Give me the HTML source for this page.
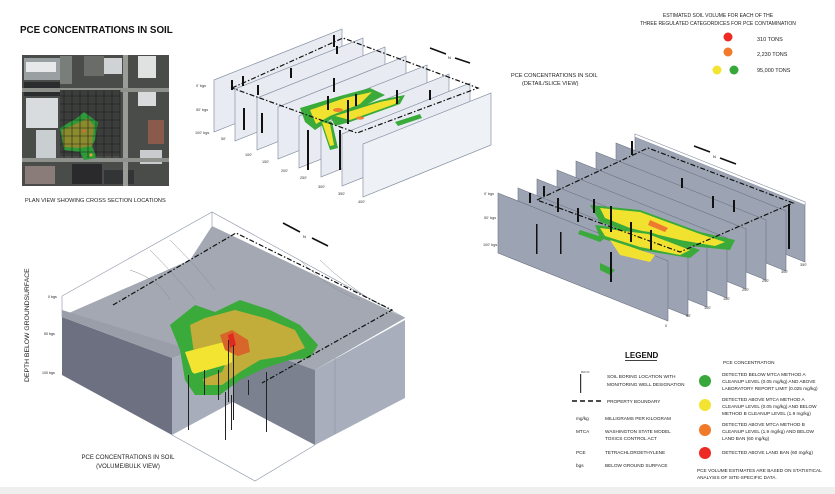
<!DOCTYPE html>
<html><head><meta charset="utf-8"><style>
html,body{margin:0;padding:0;background:#fff;}
svg{display:block;font-family:"Liberation Sans",sans-serif;}
</style></head><body>
<svg width="835" height="494" viewBox="0 0 835 494" xmlns="http://www.w3.org/2000/svg">
<rect width="835" height="494" fill="#fff"/>
<rect y="487" width="835" height="7" fill="#efefef"/>

<text x="20" y="33" font-size="9.8" font-weight="bold" fill="#111">PCE CONCENTRATIONS  IN SOIL</text>

<g>
<rect x="22" y="55" width="147" height="131" fill="#4a4c4a"/>
<rect x="24" y="58" width="36" height="22" fill="#9aa0a2"/>
<rect x="26" y="62" width="30" height="10" fill="#e6e8ea"/>
<rect x="24" y="82" width="36" height="14" fill="#2a2c2e"/>
<rect x="26" y="98" width="32" height="30" fill="#d8dcde"/>
<rect x="36" y="130" width="20" height="32" fill="#c9ced0"/>
<rect x="25" y="166" width="30" height="18" fill="#8a7c78"/>
<rect x="60" y="56" width="12" height="28" fill="#7a7e7a"/>
<rect x="84" y="56" width="20" height="20" fill="#6a6c68"/>
<rect x="104" y="58" width="18" height="16" fill="#cfd3d5"/>
<rect x="138" y="56" width="18" height="22" fill="#e0e2e2"/>
<rect x="138" y="90" width="18" height="16" fill="#d8dadc"/>
<rect x="148" y="120" width="16" height="24" fill="#8a5a4a"/>
<rect x="140" y="150" width="22" height="14" fill="#c8ccce"/>
<rect x="72" y="164" width="30" height="20" fill="#2a2a2c"/>
<rect x="104" y="170" width="30" height="14" fill="#333436"/>
<rect x="123" y="55" width="5" height="131" fill="#9a9c98"/>
<rect x="22" y="88" width="147" height="4" fill="#8e908c"/>
<rect x="22" y="158" width="147" height="4" fill="#8e908c"/>
<rect x="60" y="90" width="60" height="66" fill="#3c3e3c"/>
<path d="M77 118 L84 112 L92 118 L98 122 L95 140 L92 146 L97 158 L84 160 L80 152 L64 150 L60 128 L70 122 Z" fill="#2f9a3a"/>
<path d="M80 122 L88 118 L94 126 L92 146 L80 148 L64 147 L62 130 Z" fill="#8a8a2e"/>
<circle cx="84" cy="131" r="1.5" fill="#e0643c"/>
<circle cx="91" cy="155" r="1.5" fill="#f0a030"/>
<g stroke="#111" stroke-width="0.6" opacity="0.8">
<path d="M60 96H120M60 104H120M60 112H120M60 120H120M60 128H120M60 136H120M60 144H120M60 152H120"/>
<path d="M64 90V158M72 90V158M80 90V158M88 90V158M96 90V158M104 90V158M112 90V158M120 90V158"/>
</g>
</g>
<text x="25" y="202" font-size="5.6" fill="#222">PLAN VIEW SHOWING CROSS SECTION LOCATIONS</text>

<g stroke="#8a93a6" stroke-width="0.7">
<g fill="#e8ecf2">
<polygon points="214,80 342,29 342,81 214,132"/>
<polygon points="235,89 363,38 363,90 235,141"/>
<polygon points="257,98 385,47 385,99 257,150"/>
<polygon points="278,107 406,56 406,108 278,159"/>
<polygon points="299,116 427,65 427,117 299,168"/>
<polygon points="321,125 449,74 449,126 321,177"/>
<polygon points="342,134 470,83 470,135 342,186"/>
<polygon points="363,144 491,93 491,145 363,197" fill="#eef1f6"/>
</g>
</g>
<g>
<path d="M300 108 L340 96 L370 88 L385 95 L360 108 L330 120 L315 130 L305 122 Z" fill="#3aaa3a"/>
<path d="M310 110 L345 98 L372 92 L360 104 L330 116 L316 124 Z" fill="#f2e230"/>
<path d="M330 116 L380 100 L405 95 L400 104 L350 122 L335 126 Z" fill="#3aaa3a"/>
<path d="M335 116 L380 102 L400 98 L395 104 L350 120 Z" fill="#f2e230"/>
<path d="M320 120 L330 150 L338 148 L332 122 Z" fill="#3aaa3a"/>
<path d="M322 122 L330 146 L334 145 L330 124 Z" fill="#f2e230"/>
<ellipse cx="338" cy="110" rx="5" ry="2" fill="#ee8030"/>
<ellipse cx="360" cy="118" rx="4" ry="1.6" fill="#ee8030"/>
<path d="M395 122 L420 114 L422 118 L398 126 Z" fill="#3aaa3a"/>
</g>
<g fill="#111">
<rect x="231" y="80" width="2" height="10"/><rect x="242" y="76" width="2" height="10"/>
<rect x="257" y="85" width="2" height="10"/><rect x="243" y="108" width="2" height="22"/>
<rect x="261" y="113" width="2" height="20"/><rect x="290" y="68" width="2" height="10"/>
<rect x="333" y="35" width="2" height="12"/><rect x="336" y="46" width="2" height="8"/>
<rect x="333" y="78" width="2" height="14"/><rect x="327" y="96" width="2" height="14"/>
<rect x="307" y="130" width="2" height="40"/><rect x="339" y="130" width="2" height="40"/>
<rect x="355" y="94" width="2" height="12"/><rect x="396" y="90" width="2" height="14"/>
<rect x="429" y="90" width="2" height="10"/><rect x="347" y="100" width="2" height="24"/>
</g>
<path d="M232 88 L343 38 L478 88 L357 133 Z" fill="none" stroke="#111" stroke-width="1.2" stroke-dasharray="5,2,1.5,2"/>
<g font-size="3.8" fill="#333">
<text x="196" y="87">0' bgs</text><text x="196" y="111">50' bgs</text><text x="195" y="134">100' bgs</text>
<text x="221" y="140">50'</text><text x="245" y="156">100'</text><text x="262" y="163">150'</text><text x="281" y="172">200'</text><text x="300" y="179">250'</text><text x="318" y="188">300'</text><text x="338" y="195">350'</text><text x="358" y="203">400'</text>
</g>
<path d="M430 48 L446 54 M455 58 L470 63" stroke="#111" stroke-width="1.6"/>
<text x="448" y="59" font-size="4" fill="#111">N</text>
<text x="511" y="77" font-size="5.6" fill="#222">PCE CONCENTRATIONS IN SOIL</text>
<text x="522" y="85" font-size="5.6" fill="#222">(DETAIL/SLICE VIEW)</text>

<text x="718" y="17" font-size="5" fill="#222" text-anchor="middle">ESTIMATED SOIL VOLUME FOR EACH OF THE</text>
<text x="718" y="25" font-size="5" fill="#222" text-anchor="middle">THREE REGULATED CATEGORDICES FOR PCE CONTAMINATION</text>
<circle cx="728" cy="37" r="4.5" fill="#ee2a24"/>
<circle cx="728" cy="52" r="4.5" fill="#f07a2a"/>
<circle cx="717" cy="70" r="4.5" fill="#f2e430"/>
<circle cx="734" cy="70" r="4.5" fill="#38a83a"/>
<text x="757" y="41" font-size="5.5" fill="#222">310 TONS</text>
<text x="757" y="56" font-size="5.5" fill="#222">2,230 TONS</text>
<text x="757" y="72" font-size="5.5" fill="#222">95,000 TONS</text>

<g stroke="#6e7585" stroke-width="0.6">
<polygon points="635,134 805,202 805,262 635,194" fill="#9ca3b3"/>
<polygon points="616,143 786,211 786,271 616,203" fill="#9ca3b3"/>
<polygon points="596,152 766,220 766,280 596,212" fill="#9ca3b3"/>
<polygon points="576,161 746,229 746,289 576,221" fill="#9ca3b3"/>
<polygon points="557,170 727,238 727,298 557,230" fill="#9ca3b3"/>
<polygon points="537,179 707,247 707,307 537,239" fill="#9ca3b3"/>
<polygon points="518,188 688,256 688,316 518,248" fill="#9ca3b3"/>
<polygon points="498,193 668,261 668,321 498,253" fill="#9ca3b3"/>
</g>
<g fill="#fff" stroke="#8a93a6" stroke-width="0.5">
<polygon points="635,134 805,202 805,205 635,137"/>
</g>
<g>
<path d="M590 205 L640 210 L700 232 L735 240 L730 250 L690 246 L640 235 L600 222 Z" fill="#3aaa3a"/>
<path d="M600 208 L640 212 L700 234 L725 242 L715 246 L680 240 L630 228 L605 218 Z" fill="#f2e230"/>
<path d="M595 225 L650 232 L700 250 L690 258 L640 250 L600 238 Z" fill="#3aaa3a"/>
<path d="M600 228 L648 234 L690 250 L680 255 L640 247 L605 236 Z" fill="#f2e230"/>
<path d="M610 240 L655 255 L650 262 L620 255 Z" fill="#f2e230"/>
<path d="M650 220 L668 228 L665 232 L648 225 Z" fill="#ee7a30"/>
<path d="M580 230 L605 238 L600 242 L578 234 Z" fill="#3aaa3a"/>
<path d="M600 263 L615 270 L610 275 L600 270 Z" fill="#3aaa3a"/>
</g>
<g fill="#111">
<rect x="529" y="193" width="2" height="10"/><rect x="543" y="186" width="2" height="10"/>
<rect x="536" y="224" width="1.5" height="30"/><rect x="560" y="232" width="1.5" height="22"/>
<rect x="557" y="198" width="2" height="14"/><rect x="577" y="208" width="2" height="14"/>
<rect x="593" y="199" width="2" height="14"/><rect x="631" y="141" width="2" height="14"/>
<rect x="681" y="178" width="2" height="10"/><rect x="712" y="196" width="2" height="12"/>
<rect x="733" y="200" width="2" height="12"/><rect x="788" y="204" width="2" height="45"/>
<rect x="610" y="206" width="2" height="26"/><rect x="630" y="222" width="2" height="20"/>
<rect x="650" y="230" width="2" height="20"/><rect x="610" y="252" width="2" height="30"/>
</g>
<path d="M537 200 L648 148 L793 203 L680 252 Z" fill="none" stroke="#111" stroke-width="1.2" stroke-dasharray="5,2,1.5,2"/>
<g font-size="3.8" fill="#333">
<text x="484" y="195">0' bgs</text><text x="484" y="219">50' bgs</text><text x="483" y="246">100' bgs</text>
<text x="665" y="327">0</text><text x="686" y="317">50'</text><text x="704" y="309">100'</text><text x="723" y="300">150'</text><text x="742" y="291">200'</text><text x="762" y="282">250'</text><text x="781" y="273">300'</text><text x="800" y="266">350'</text>
</g>
<path d="M694 146 L710 152 M720 158 L736 164" stroke="#111" stroke-width="1.6"/>
<text x="713" y="158" font-size="4" fill="#111">N</text>

<g stroke="#8a93a6" stroke-width="0.6" fill="none">
<path d="M62 296 L212 212 L405 318"/>
<path d="M212 212 L212 226"/>
<path d="M172 435 L255 481 L315 445"/>
<path d="M62 296 L62 317"/>
</g>
<polygon points="62,316 190,260 212,226 405,318 315,370 233,340 172,358" fill="#a4a8b2"/>
<path d="M130 270 Q160 280 170 300 M150 250 Q175 275 195 300 M170 240 Q200 270 215 290 M300 260 Q330 290 360 300 M320 260 Q345 285 380 305" stroke="#8a8e98" stroke-width="0.5" fill="none"/>
<polygon points="62,317 172,358 172,435 62,375" fill="#6c7080"/>
<polygon points="62,317 172,358 185,353 185,348 62,310" fill="#9a9ea8"/>
<polygon points="172,358 233,340 233,402 172,435" fill="#a8adbc"/>
<polygon points="233,340 315,370 315,445 233,402" fill="#7c8190"/>
<polygon points="315,370 405,320 405,398 315,445" fill="#a8aebc"/>
<path d="M335 358 L335 434" stroke="#8a8e98" stroke-width="0.5"/>
<g>
<path d="M170 325 L195 305 L215 312 L240 300 L270 310 L300 325 L318 345 L310 358 L290 360 L265 368 L240 380 L220 395 L195 395 L185 380 L180 350 Z" fill="#3aaa3a"/>
<path d="M190 325 L205 318 L235 310 L265 318 L295 330 L305 348 L285 356 L260 360 L240 372 L222 385 L205 385 L195 360 Z" fill="#c2ad3a"/>
<path d="M185 352 L232 340 L232 362 L200 378 L192 372 Z" fill="#f2e430"/>
<path d="M190 375 L225 365 L222 372 L195 382 Z" fill="#3aaa3a"/>
<path d="M220 335 L232 330 L248 340 L250 352 L238 356 L225 350 Z" fill="#d8652a"/>
<path d="M228 335 L233 333 L236 345 L230 348 Z" fill="#e02a20"/>
</g>
<g fill="#222">
<rect x="228" y="340" width="1" height="62"/><rect x="233" y="345" width="1" height="75"/>
<rect x="225" y="392" width="1" height="48"/><rect x="231" y="395" width="1" height="35"/>
<rect x="266" y="372" width="1" height="60"/><rect x="204" y="370" width="1" height="25"/>
<rect x="218" y="370" width="1" height="30"/><rect x="248" y="380" width="1" height="15"/>
<rect x="188" y="375" width="1" height="55"/>
</g>
<path d="M113 305 L236 233 L392 310 L262 383" fill="none" stroke="#111" stroke-width="1.2" stroke-dasharray="5,2,1.5,2"/>
<g font-size="3.6" fill="#222">
<text x="48" y="298">0 bgs</text><text x="44" y="335">50 bgs</text><text x="42" y="374">100 bgs</text>
</g>
<path d="M283 223 L300 232 M312 238 L328 246" stroke="#111" stroke-width="1.6"/>
<text x="303" y="238" font-size="4" fill="#111">N</text>
<text x="0" y="0" font-size="6.8" fill="#222" transform="translate(29,382) rotate(-90)">DEPTH BELOW GROUNDSURFACE</text>
<text x="128" y="459" font-size="6" fill="#222" text-anchor="middle">PCE CONCENTRATIONS IN SOIL</text>
<text x="128" y="468" font-size="6" fill="#222" text-anchor="middle">(VOLUME/BULK VIEW)</text>

<text x="625" y="358" font-size="8" font-weight="bold" fill="#111">LEGEND</text>
<rect x="625" y="360" width="32" height="0.8" fill="#111"/>
<rect x="580" y="374" width="1.2" height="19" fill="#333"/>
<text x="581" y="373" font-size="2.5" fill="#333">MW-XX</text>
<g font-size="4.7" fill="#222">
<text x="607" y="378">SOIL BORING LOCATION WITH</text>
<text x="607" y="386">MONITORING WELL DESIGNATION</text>
<text x="607" y="403">PROPERTY BOUNDARY</text>
<text x="576" y="420">mg/kg</text><text x="605" y="420">MILLIGRAMS PER KILOGRAM</text>
<text x="576" y="433">MTCA</text><text x="605" y="433">WASHINGTON STATE MODEL</text><text x="605" y="440">TOXICS CONTROL ACT</text>
<text x="576" y="454">PCE</text><text x="605" y="454">TETRACHLOROETHYLENE</text>
<text x="576" y="467">bgs</text><text x="605" y="467">BELOW GROUND SURFACE</text>
<text x="723" y="364">PCE CONCENTRATION</text>
<text x="722" y="376">DETECTED BELOW MTCA METHOD A</text>
<text x="722" y="383">CLEANUP LEVEL (0.05 mg/kg) AND ABOVE</text>
<text x="722" y="390">LABORATORY REPORT LIMIT (0.025 mg/kg)</text>
<text x="722" y="401">DETECTED ABOVE MTCA METHOD A</text>
<text x="722" y="408">CLEANUP LEVEL (0.05 mg/kg) AND BELOW</text>
<text x="722" y="415">METHOD B CLEANUP LEVEL (1.9 mg/kg)</text>
<text x="722" y="426">DETECTED ABOVE MTCA METHOD B</text>
<text x="722" y="433">CLEANUP LEVEL (1.9 mg/kg) AND BELOW</text>
<text x="722" y="440">LAND BAN (60 mg/kg)</text>
<text x="722" y="454">DETECTED ABOVE LAND BAN (60 mg/kg)</text>
<text x="697" y="472">PCE VOLUME ESTIMATES ARE BASED ON STATISTICAL</text>
<text x="697" y="479">ANALYSIS OF SITE-SPECIFIC DATA.</text>
</g>
<path d="M572 401 L603 401" stroke="#111" stroke-width="1.4" stroke-dasharray="5,3"/>
<circle cx="705" cy="381" r="6" fill="#38a83a"/>
<circle cx="705" cy="405" r="6" fill="#f2e430"/>
<circle cx="705" cy="430" r="6" fill="#f07a2a"/>
<circle cx="705" cy="453" r="6" fill="#ee2a24"/>
</svg>
</body></html>
